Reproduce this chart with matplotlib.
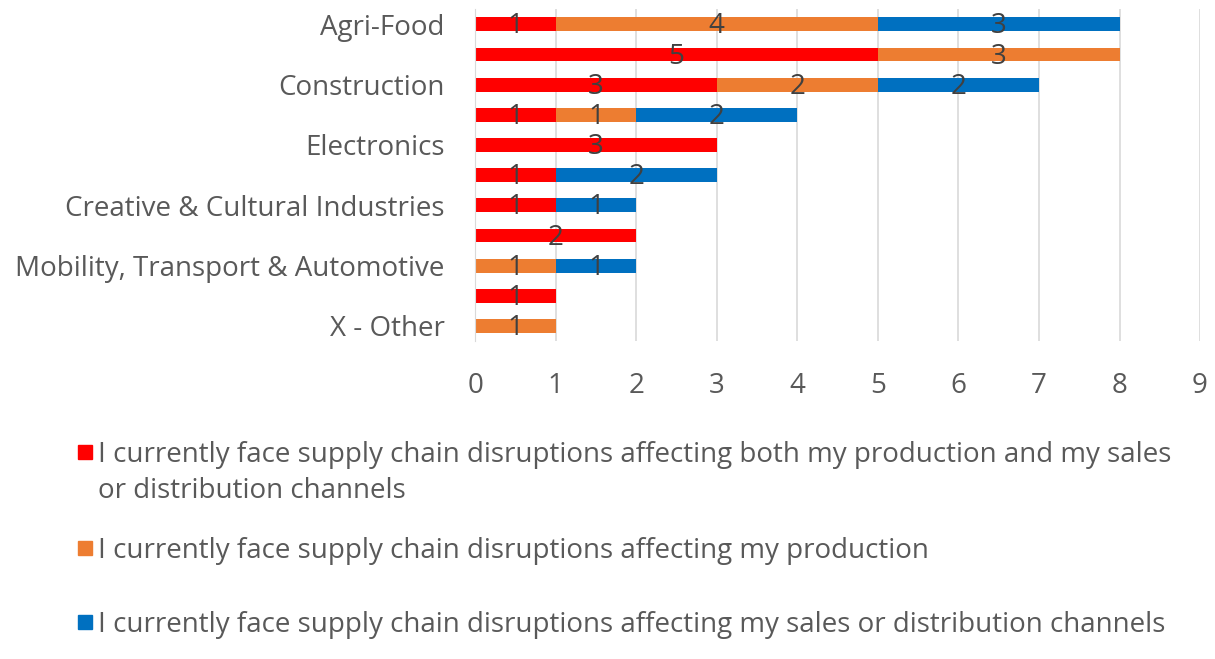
import matplotlib
matplotlib.use("Agg")
from matplotlib import pyplot as plt
from matplotlib.patches import Rectangle
import numpy as np

plt.rcParams['font.family'] = ['Open Sans', 'DejaVu Sans']

# rows top -> bottom; Excel skipped every other label, so those stay blank
categories = ['Agri-Food', '', 'Construction', '', 'Electronics', '',
              'Creative & Cultural Industries', '', 'Mobility, Transport & Automotive',
              '', 'X - Other']
both_prod_sales = [1, 5, 3, 1, 3, 1, 1, 2, 0, 1, 0]
production_only = [4, 3, 2, 1, 0, 0, 0, 0, 1, 0, 1]
sales_only = [3, 0, 2, 2, 0, 2, 1, 0, 1, 0, 0]
series_labels = [
    'I currently face supply chain disruptions affecting both my production and my sales\nor distribution channels',
    'I currently face supply chain disruptions affecting my production',
    'I currently face supply chain disruptions affecting my sales or distribution channels',
]
colors = ['#FF0000', '#ED7D31', '#0070C0']

W, H = 1215, 659
fig = plt.figure(figsize=(W / 100, H / 100), dpi=100)
ax = fig.add_axes([0.391, 0.4825, 0.5967, 0.5035])

y = np.arange(len(categories))
left = np.zeros(len(categories))
for vals, c, lab in zip([both_prod_sales, production_only, sales_only], colors, series_labels):
    vals = np.array(vals)
    ax.barh(y, vals, left=left, height=0.46, color=c, zorder=2, label=lab)
    for yi, l, v in zip(y, left, vals):
        if v > 0:
            ax.text(l + v / 2, yi + 0.07, str(v), ha='center', va='center',
                    fontsize=20, color='#404040', zorder=3)
    left += vals

ax.set_xlim(0, 9)
ax.set_ylim(len(categories) - 0.5, -0.5)
ax.set_xticks(range(10))
ax.set_yticks(y)
ax.set_yticklabels(categories)
ax.tick_params(axis='both', length=0, labelsize=20, colors='#595959')
ax.tick_params(axis='x', pad=22)
ax.tick_params(axis='y', pad=22)
ax.grid(axis='x', color='#D9D9D9', linewidth=1.2, zorder=0)
for s in ['top', 'right', 'bottom']:
    ax.spines[s].set_visible(False)
ax.spines['left'].set_color('#D9D9D9')

# legend drawn by hand: entries sit at uneven heights and the square
# lines up with the first text line, as in the original
first_line_y = [452, 548, 622]  # pixel rows of first-line centres
for lab, c, py in zip(series_labels, colors, first_line_y):
    fig.add_artist(Rectangle((78 / W, 1 - (py + 7) / H), 14 / W, 14 / H,
                             transform=fig.transFigure, color=c))
    fig.text(98 / W, 1 - (py - 11) / H, lab, va='top', ha='left',
             fontsize=20, color='#595959', linespacing=1.37)

fig.savefig('out.png', dpi=100)
